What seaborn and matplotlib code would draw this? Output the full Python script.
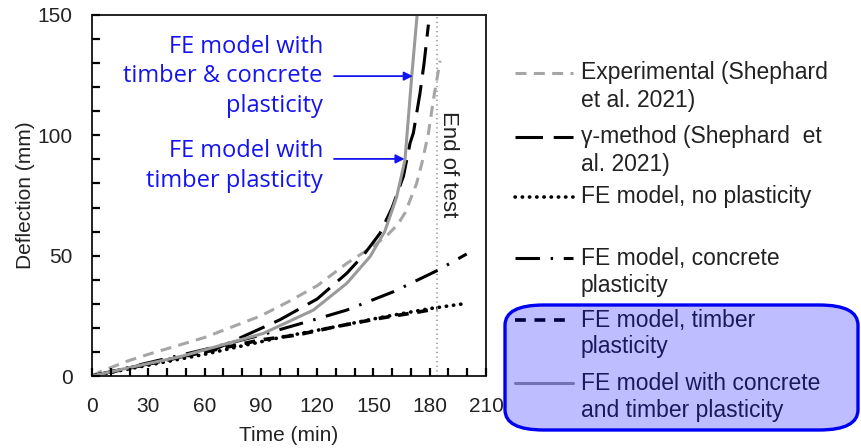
import matplotlib
matplotlib.use("Agg")
import matplotlib.pyplot as plt
import seaborn as sns
import numpy as np
from matplotlib.patches import FancyBboxPatch
from matplotlib.lines import Line2D
from matplotlib.ticker import MultipleLocator, FixedLocator

# ---------------- data ----------------
t_exp = [0, 5, 10, 20, 30, 45, 60, 75, 90, 105, 120, 135.8, 150, 158, 163, 167, 170, 173, 176, 179.3, 182, 184, 185.5]
d_exp = [0, 2, 3.5, 6.5, 9, 12.5, 16, 20.5, 25, 31, 37.5, 46.8, 54, 59, 63, 68, 74, 80, 89, 100.8, 115, 124, 131]

t_gamma = [0, 30, 64.7, 100, 120, 135.8, 145, 153.5, 160, 164, 166, 169.5, 171.3, 174.8, 177, 179.3]
d_gamma = [0, 5, 10.8, 23.3, 32, 42.7, 50.5, 59.3, 70, 78.7, 83, 96.7, 101, 117.4, 130, 146]

t_nopl = [0, 30, 60, 80, 102, 130, 155, 180, 198]
d_nopl = [0, 4.5, 9, 12.5, 16.3, 20.5, 24.5, 28, 30]

t_conc = [0, 30, 60, 90, 118, 135.8, 160.6, 183.7, 199.7]
d_conc = [0, 5.5, 11, 17, 23.3, 27.4, 35, 43.7, 50.7]

t_timb = [0, 30, 60, 90, 109, 130, 153.5, 174.8, 184]
d_timb = [0, 5, 10, 15, 17, 20.5, 24, 26.7, 28]

t_both = [0, 20, 46.9, 91.3, 118, 135.8, 148.2, 156, 160.6, 162.4, 166.8, 170.4, 173.5]
d_both = [0, 3.5, 8, 17.7, 27.4, 38.5, 49.6, 60, 70.3, 74.5, 89.7, 124.4, 152]

labels = [
    "Experimental (Shephard\net al. 2021)",
    "\u03b3-method (Shephard  et\nal. 2021)",
    "FE model, no plasticity",
    "FE model, concrete\nplasticity",
    "FE model, timber\nplasticity",
    "FE model with concrete\nand timber plasticity",
]
x_ticks = [0, 30, 60, 90, 120, 150, 180, 210]
y_ticks = [0, 50, 100, 150]
end_of_test = 184

# ---------------- figure ----------------
sns.set_theme(style="ticks")
plt.rcParams["font.family"] = ["Liberation Sans", "DejaVu Sans"]
plt.rcParams["axes.axisbelow"] = False
fig = plt.figure(figsize=(8.62, 4.48), dpi=100)
W, H = 862.0, 448.0
ax = fig.add_axes([92/W, 1-376/H, (486-92)/W, (376-15)/H])

GRAY = "#a6a6a6"
TXT = "#222222"
lw = 2.2
styles = [
    dict(color=GRAY, lw=lw, linestyle=(0, (3.6, 2.4))),
    dict(color="black", lw=lw, linestyle=(0, (9, 3.5))),
    dict(color="black", lw=2.6, linestyle=(0, (0.1, 1.9)), dash_capstyle="round"),
    dict(color="black", lw=lw, linestyle=(0, (8, 3.5, 0.8, 3.5))),
    dict(color="black", lw=2.6, linestyle=(0, (3, 2.4))),
    dict(color="#9a9a9a", lw=lw, linestyle="-"),
]
data = [(t_exp, d_exp), (t_gamma, d_gamma), (t_nopl, d_nopl),
        (t_conc, d_conc), (t_timb, d_timb), (t_both, d_both)]
for (tx, dy), kw in zip(data, styles):
    sns.lineplot(x=tx, y=dy, ax=ax, sort=False, legend=False, **kw)

ax.axvline(end_of_test, color=GRAY, lw=1.5, linestyle=(0, (0.6, 1.6)), zorder=1)
ax.text(end_of_test + 6.0, 88, "End of test", rotation=270, ha="center", va="center",
        fontsize=16, color=TXT)

ax.set_xlim(0, 210)
ax.set_ylim(0, 150)
ax.xaxis.set_major_locator(FixedLocator(x_ticks))
ax.yaxis.set_major_locator(FixedLocator(y_ticks))
ax.xaxis.set_minor_locator(MultipleLocator(10))
ax.yaxis.set_minor_locator(MultipleLocator(10))
ax.tick_params(axis="y", which="both", direction="in", length=5.5, width=1.6, color="black",
               left=True, right=False)
ax.tick_params(axis="x", which="both", direction="in", length=6, width=1.6, color="black",
               bottom=True, top=False)
ax.tick_params(axis="both", which="major", labelsize=15, labelcolor=TXT)
ax.tick_params(axis="y", which="major", pad=14)
ax.tick_params(axis="x", which="major", pad=15)
for s in ax.spines.values():
    s.set_visible(True)
    s.set_color(TXT)
    s.set_linewidth(1.4)
ax.set_xlabel("Time (min)", fontsize=15, color=TXT, labelpad=7)
ax.set_ylabel("Deflection (mm)", fontsize=15, color=TXT, labelpad=2)

# annotations
blue = "#1414f0"
afont = dict(family=["Open Sans", "DejaVu Sans"], fontsize=17, color=blue, fontweight="medium")
ax.text(123, 124.5, "FE model with\ntimber & concrete\nplasticity", ha="right", va="center",
        multialignment="right", linespacing=1.32, **afont)
ax.text(123, 87.3, "FE model with\ntimber plasticity", ha="right", va="center",
        multialignment="right", linespacing=1.32, **afont)
ax.annotate("", xy=(171.0, 124.6), xytext=(129, 124.6),
            arrowprops=dict(arrowstyle="-|>", color=blue, lw=1.3, mutation_scale=13,
                            shrinkA=0, shrinkB=0), annotation_clip=False)
ax.annotate("", xy=(166.6, 90.2), xytext=(129, 90.2),
            arrowprops=dict(arrowstyle="-|>", color=blue, lw=1.3, mutation_scale=13,
                            shrinkA=0, shrinkB=0), annotation_clip=False)

# legend (built by hand so the handle sits on the first line of each label)
entry_y = [73, 137, 197, 258, 320, 383]
line_step = 27
for lab, kw, yc in zip(labels, styles, entry_y):
    fig.add_artist(Line2D([515/W, 573/W], [1-yc/H, 1-yc/H], transform=fig.transFigure, **kw))
    for k, part in enumerate(lab.split("\n")):
        fig.text(581/W, 1-(yc + k*line_step)/H, part, fontsize=16.5, color=TXT,
                 ha="left", va="center")

# highlight box over last two entries
box = FancyBboxPatch((505/W, 1-430/H), (858-505)/W, (430-305)/H,
                     boxstyle="round,pad=0,rounding_size=0.045",
                     transform=fig.transFigure, facecolor=(0, 0, 1, 0.26),
                     edgecolor=(0, 0, 0.95, 1), lw=2.4, zorder=10)
fig.patches.append(box)

fig.savefig("out.png", dpi=100)
